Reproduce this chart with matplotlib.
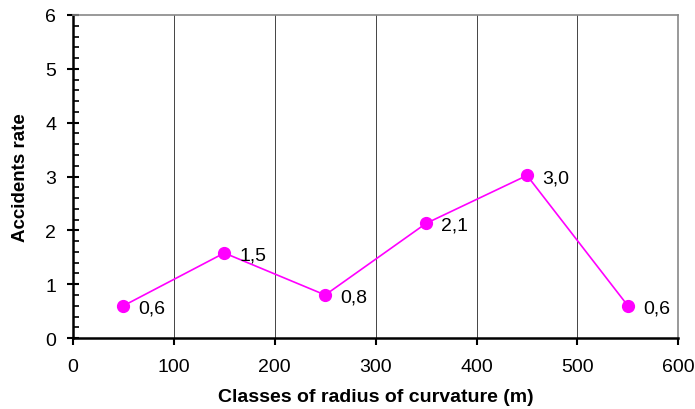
import matplotlib.pyplot as plt
from matplotlib.ticker import MultipleLocator

plt.rcParams['font.family'] = ['Liberation Sans', 'DejaVu Sans']

# data
radius_class = [50, 150, 250, 350, 450, 550]
accident_rate = [0.6, 1.58, 0.8, 2.13, 3.02, 0.6]
rate_labels = ['0,6', '1,5', '0,8', '2,1', '3,0', '0,6']

fig = plt.figure(figsize=(6.95, 4.1), dpi=100)
ax = fig.add_axes([0.105, 0.173, 0.871, 0.788])

ax.plot(radius_class, accident_rate, color='#ff00ff', lw=1.2,
        marker='o', ms=8.5, zorder=3)
for x, y, lab in zip(radius_class, accident_rate, rate_labels):
    ax.annotate(lab, (x, y), xytext=(11, -1.5), textcoords='offset points',
                fontsize=14, va='center', ha='left')

ax.set_xlim(0, 600)
ax.set_ylim(0, 6)
ax.xaxis.set_major_locator(MultipleLocator(100))
ax.yaxis.set_major_locator(MultipleLocator(1))
ax.yaxis.set_minor_locator(MultipleLocator(0.2))
ax.grid(axis='x', color='#444444', lw=0.7)

ax.tick_params(axis='both', labelsize=14, width=1.5, length=5, color='black')
ax.tick_params(axis='x', pad=9)
ax.tick_params(axis='y', which='major', direction='inout', length=8, pad=8)
ax.tick_params(axis='y', which='minor', direction='in', length=4, width=1.2)

for s in ['left', 'bottom']:
    ax.spines[s].set_linewidth(1.8)
for s in ['top', 'right']:
    ax.spines[s].set_color('#888888')
    ax.spines[s].set_linewidth(1.2)

ax.set_xlabel('Classes of radius of curvature (m)', fontsize=14,
              fontweight='bold', labelpad=10)
ax.set_ylabel('Accidents rate', fontsize=13.5, fontweight='bold', labelpad=12)

fig.savefig('out.png')
